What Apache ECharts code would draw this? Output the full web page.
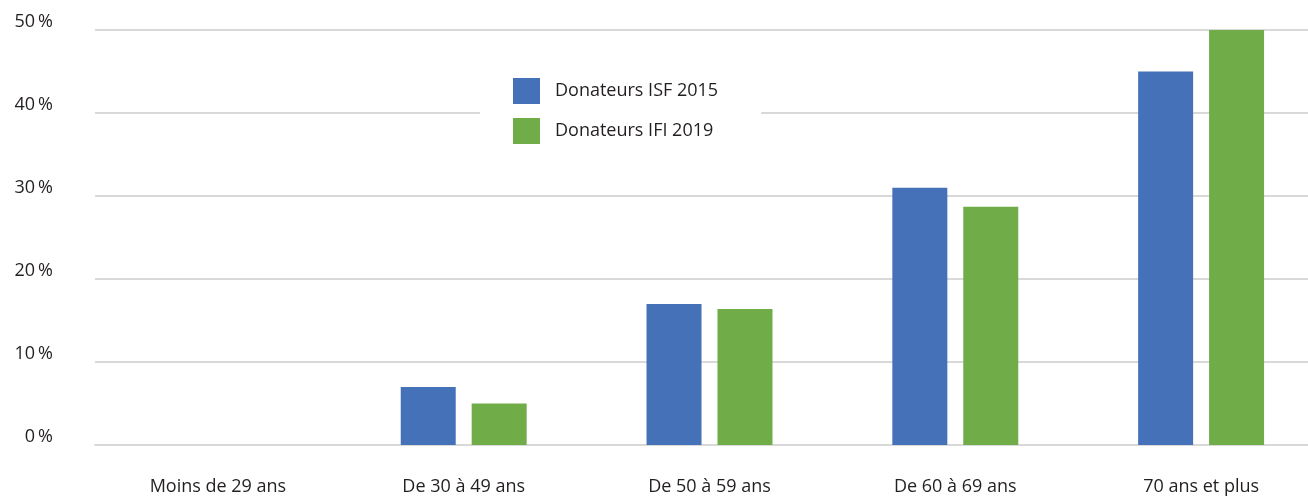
<!DOCTYPE html>
<html>
<head>
<meta charset="utf-8">
<script src="https://cdn.jsdelivr.net/npm/echarts@6/dist/echarts.min.js"></script>
<style>
  html, body { margin: 0; padding: 0; background: #fff; }
  #chart { width: 1308px; height: 496px; }
</style>
</head>
<body>
<div id="chart"></div>
<script>
const categories = ['Moins de 29 ans', 'De 30 à 49 ans', 'De 50 à 59 ans', 'De 60 à 69 ans', '70 ans et plus']
const isf2015 = [0, 7.0, 17.0, 31.0, 45.0]
const ifi2019 = [0, 5.0, 16.4, 28.7, 50.0]
const yTicks = [0, 10, 20, 30, 40, 50]

const chart = echarts.init(document.getElementById('chart'))
chart.setOption({
  animation: false,
  textStyle: { fontFamily: 'Open Sans', color: '#231f20' },
  grid: {
    left: 95,
    right: -16,
    top: 30,
    bottom: 51,
    outerBoundsMode: 'none'
  },
  legend: {
    orient: 'vertical',
    left: 480,
    top: 65,
    padding: [13, 43, 13, 33],
    backgroundColor: '#fff',
    icon: 'rect',
    itemWidth: 27,
    itemHeight: 26,
    itemGap: 14,
    textStyle: { fontSize: 18, color: '#231f20', padding: [0, 0, 0, 10] },
    data: ['Donateurs ISF 2015', 'Donateurs IFI 2019']
  },
  xAxis: {
    type: 'category',
    data: categories,
    axisTick: { show: false },
    axisLine: { show: true, lineStyle: { color: '#d9d9d9', width: 2 } },
    axisLabel: { margin: 33, fontSize: 18, color: '#231f20' }
  },
  yAxis: {
    type: 'value',
    min: yTicks[0],
    max: yTicks[yTicks.length - 1],
    interval: 10,
    axisLine: { show: false },
    axisTick: { show: false },
    splitLine: { lineStyle: { color: '#d9d9d9', width: 2 } },
    axisLabel: {
      margin: 42,
      fontSize: 18,
      color: '#231f20',
      verticalAlign: 'bottom',
      padding: [0, 0, -1, 0],
      formatter: v => v + '\u2009%'
    }
  },
  series: [
    {
      name: 'Donateurs ISF 2015',
      type: 'bar',
      barWidth: 55,
      barGap: '29%',
      itemStyle: { color: '#4571b8' },
      data: isf2015
    },
    {
      name: 'Donateurs IFI 2019',
      type: 'bar',
      barWidth: 55,
      itemStyle: { color: '#70ac47' },
      data: ifi2019
    }
  ]
})
</script>
</body>
</html>
